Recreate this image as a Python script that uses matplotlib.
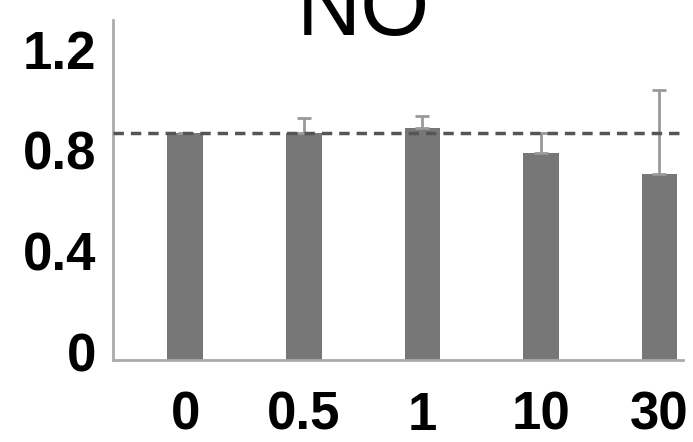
import numpy as np
import matplotlib.pyplot as plt
import matplotlib.transforms as mtransforms

# doses and normalised NO response
doses = ['0', '0.5', '1', '10', '30']
means = [0.90, 0.90, 0.92, 0.82, 0.74]
err_up = [0.0, 0.06, 0.05, 0.08, 0.33]
ref_level = 0.90
yticks = [0, 0.4, 0.8, 1.2]
yticklabels = ['0', '0.4', '0.8', '1.2']

plt.rcParams['font.family'] = ['Liberation Sans', 'DejaVu Sans']

fig = plt.figure(figsize=(6.93, 4.42), dpi=100)
ax = fig.add_axes([0.163, 0.1855, 0.8226, 0.7695])

x = np.arange(len(doses))
ax.bar(x, means, width=0.30, color='#777777', zorder=2)
ax.errorbar(x, means, yerr=[np.zeros(len(err_up)), err_up], fmt='none',
            ecolor='#999999', elinewidth=2, capsize=5, capthick=2, zorder=3)
ax.axhline(ref_level, color='#555555', lw=2.5, ls=(0, (3, 2)), zorder=4)

ax.set_xlim(-0.61, 4.2)
ax.set_ylim(0, 1.35)
ax.set_xticks(x)
ax.set_xticklabels(doses)
ax.set_yticks(yticks)
ax.set_yticklabels(yticklabels)
ax.tick_params(axis='both', length=0, labelsize=38)
ax.tick_params(axis='x', pad=22)
ax.tick_params(axis='y', pad=12)
for lab in ax.get_xticklabels() + ax.get_yticklabels():
    lab.set_fontweight('bold')
# y labels sit a little above their ticks in the original
shift = mtransforms.ScaledTranslation(0, 0.08, fig.dpi_scale_trans)
for lab in ax.get_yticklabels():
    lab.set_transform(lab.get_transform() + shift)

for s in ['top', 'right']:
    ax.spines[s].set_visible(False)
for s in ['left', 'bottom']:
    ax.spines[s].set_color('#aaaaaa')
    ax.spines[s].set_linewidth(2)

fig.text(0.525, 0.921, 'NO', fontsize=64, ha='center', va='baseline')

fig.savefig('out.png', dpi=100)
